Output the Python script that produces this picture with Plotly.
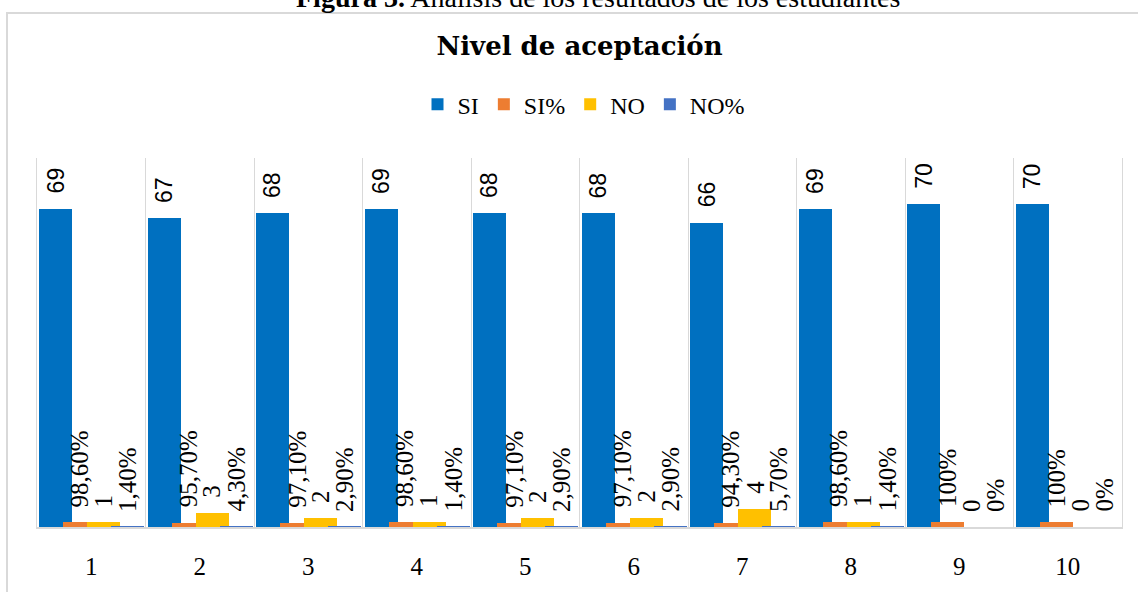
import plotly.graph_objects as go

# ---- data ----
categories = [1, 2, 3, 4, 5, 6, 7, 8, 9, 10]
tick_labels = ["1", "2", "3", "4", "5", "6", "7", "8", "9", "10"]
si_values = [69, 67, 68, 69, 68, 68, 66, 69, 70, 70]
si_pct = [0.986, 0.957, 0.971, 0.986, 0.971, 0.971, 0.943, 0.986, 1.0, 1.0]
no_values = [1, 3, 2, 1, 2, 2, 4, 1, 0, 0]
no_pct = [0.014, 0.043, 0.029, 0.014, 0.029, 0.029, 0.057, 0.014, 0.0, 0.0]

series_names = ["SI", "SI%", "NO", "NO%"]
series_colors = ["#0070C0", "#ED7D31", "#FFC000", "#4472C4"]

# ---- layout geometry (pixels) ----
W, H = 1138, 592
L, R, T, B = 37, 1122, 158, 532

def px_x(p):
    return (p - L) / (R - L)

def px_y(p):
    return (B - p) / (B - T)

BAR_W = 0.304
OFFSETS = [-0.48, -0.259, -0.038, 0.183]


def fmt_pct(v):
    p = v * 100
    if abs(p - round(p)) < 1e-9:
        return f"{int(round(p))}%"
    return f"{p:.2f}%".replace(".", ",")


series_values = [si_values, si_pct, no_values, no_pct]
series_labels = [
    [str(v) for v in si_values],
    [fmt_pct(v) for v in si_pct],
    [str(v) for v in no_values],
    [fmt_pct(v) for v in no_pct],
]

SERIF = "Liberation Serif, Times New Roman, serif"
SANS = "Liberation Sans, Arial, sans-serif"

fig = go.Figure()
for name, vals, col, off in zip(series_names, series_values, series_colors, OFFSETS):
    fig.add_trace(go.Bar(
        x=categories, y=vals, name=name,
        marker=dict(color=col, line=dict(width=0)),
        offset=off, width=BAR_W,
        hoverinfo="x+y+name",
    ))

annotations = []
for si, (vals, labs, off) in enumerate(zip(series_values, series_labels, OFFSETS)):
    if si == 0:
        fnt = dict(family=SANS, size=23, color="#000000")
    else:
        fnt = dict(family=SERIF, size=25, color="#000000")
    for c, v, lab in zip(categories, vals, labs):
        annotations.append(dict(
            x=c + off + BAR_W / 2, y=v, xref="x", yref="y",
            text=lab, textangle=-90, showarrow=False,
            xanchor="center", yanchor="bottom", yshift=13,
            font=fnt,
        ))

annotations.append(dict(
    x=px_x(597.5), y=px_y(-5), xref="paper", yref="paper",
    text="<b>Figura 3.</b> Análisis de los resultados de los estudiantes",
    showarrow=False, xanchor="center", yanchor="middle",
    font=dict(family=SERIF, size=28, color="#000000"),
))

fig.update_layout(
    width=W, height=H,
    margin=dict(l=L, r=W - R, t=T, b=H - B),
    paper_bgcolor="white", plot_bgcolor="white",
    barmode="overlay",
    bargap=0,
    title=dict(
        text="Nivel de aceptación",
        x=px_x(579.5), xref="paper", xanchor="center",
        y=1 - 46 / H, yref="container", yanchor="middle",
        font=dict(family="DejaVu Serif, serif", size=26, color="#000000", weight="bold"),
    ),
    legend=dict(
        orientation="h", x=px_x(584), xanchor="center",
        y=px_y(104), yanchor="middle",
        font=dict(family=SERIF, size=24, color="#000000"),
        traceorder="normal", bgcolor="rgba(0,0,0,0)",
    ),
    showlegend=True,
    annotations=annotations,
    shapes=[dict(
        type="rect", xref="paper", yref="paper",
        x0=px_x(7), x1=px_x(1160), y0=px_y(11), y1=px_y(610),
        line=dict(color="#D9D9D9", width=2), fillcolor="rgba(0,0,0,0)",
        layer="below",
    )],
    xaxis=dict(
        range=[0.5, 10.5],
        tickmode="array", tickvals=categories, ticktext=tick_labels,
        showgrid=False, zeroline=False,
        showline=True, linecolor="#D9D9D9", linewidth=1.5,
        ticks="", ticklabelstandoff=16,
        tickfont=dict(family=SERIF, size=25, color="#000000"),
        minor=dict(
            tickmode="array",
            tickvals=[c - 0.5 for c in categories] + [categories[-1] + 0.5],
            showgrid=True, gridcolor="#D9D9D9", gridwidth=1, ticks="",
        ),
        fixedrange=True,
    ),
    yaxis=dict(
        range=[0, 80], showgrid=False, zeroline=False,
        showticklabels=False, ticks="",
        showline=True, mirror=True, linecolor="#D9D9D9", linewidth=1,
        fixedrange=True,
    ),
)

fig.write_html(
    "out.html",
    config={"displayModeBar": False},
    post_script="document.body.style.margin='0';document.body.style.overflow='hidden';",
)
